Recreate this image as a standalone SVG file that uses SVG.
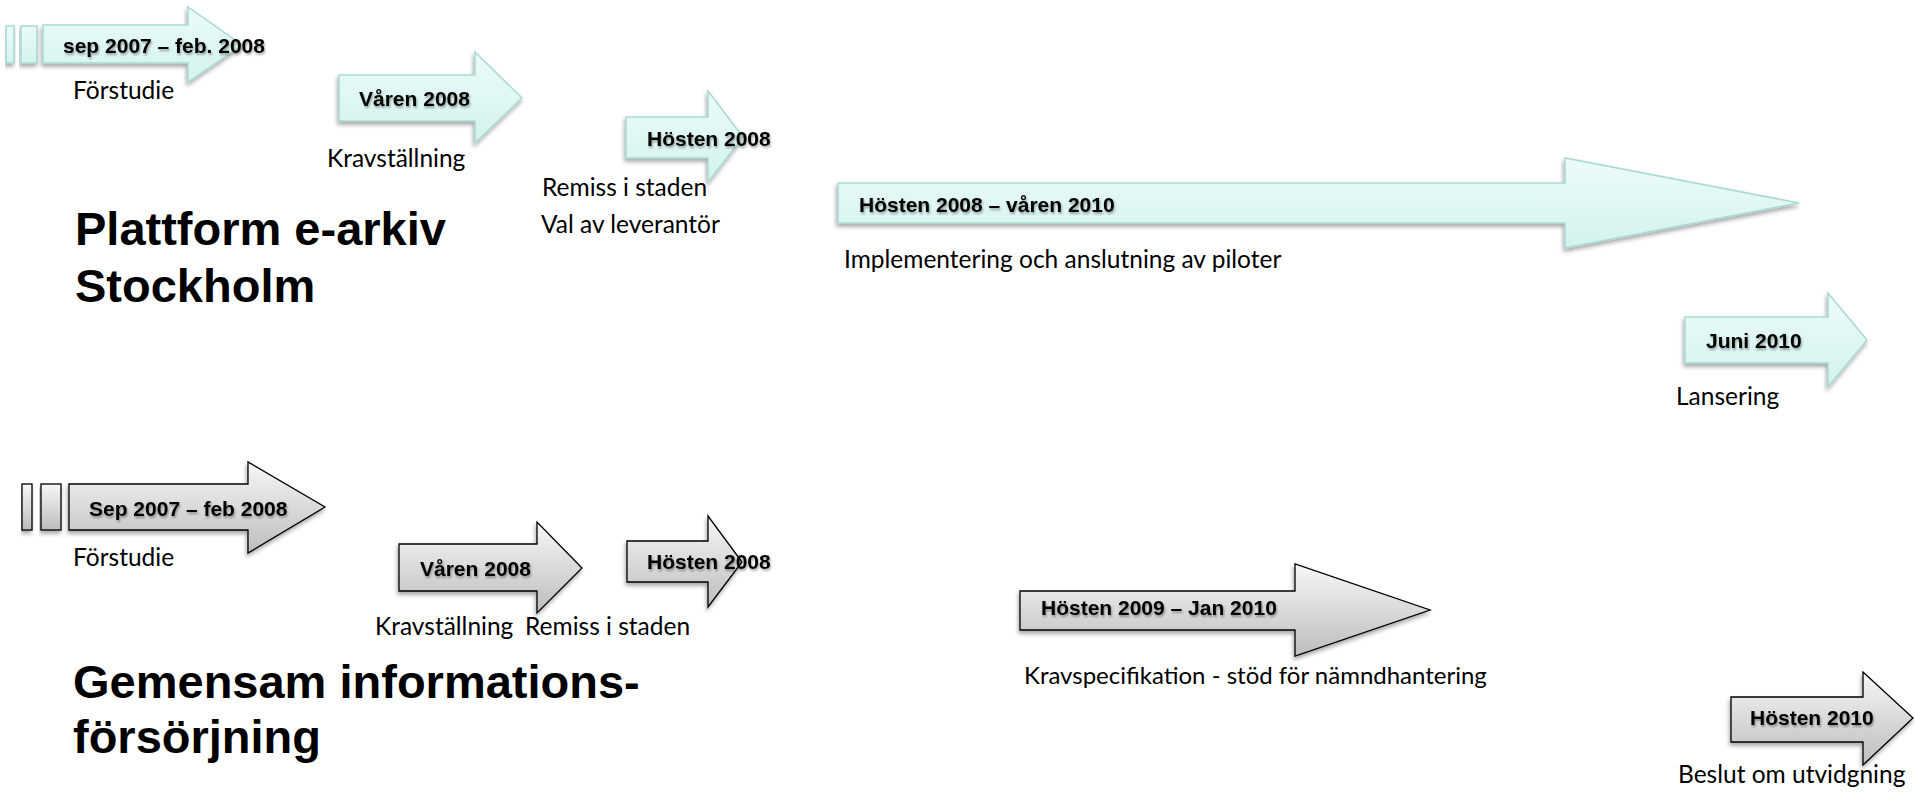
<svg xmlns="http://www.w3.org/2000/svg" width="1915" height="805" viewBox="0 0 1915 805">
<defs>
  <linearGradient id="gTeal" x1="0" y1="0" x2="0" y2="1">
    <stop offset="0" stop-color="#ecfbf9"/>
    <stop offset="1" stop-color="#d3f3ee"/>
  </linearGradient>
  <linearGradient id="gGrey" x1="0" y1="0" x2="0" y2="1">
    <stop offset="0" stop-color="#f7f7f7"/>
    <stop offset="1" stop-color="#bdbdbd"/>
  </linearGradient>
  <filter id="shadow" x="-10%" y="-20%" width="130%" height="150%">
    <feDropShadow dx="-1" dy="3" stdDeviation="2" flood-color="#000" flood-opacity="0.35"/>
  </filter>
  <filter id="tshadow" x="-5%" y="-20%" width="115%" height="160%">
    <feDropShadow dx="1" dy="2" stdDeviation="1" flood-color="#000" flood-opacity="0.35"/>
  </filter>
</defs>
<style>
  .teal { fill: url(#gTeal); stroke: #a9d9d2; stroke-width: 1.5; filter: url(#shadow); }
  .grey { fill: url(#gGrey); stroke: #000; stroke-width: 1.3; filter: url(#shadow); }
  .lbl { font-family: "Liberation Sans", Arial, sans-serif; font-weight: bold; font-size: 21px; fill: #000; filter: url(#tshadow); }
  .txt { font-family: Lato, "Liberation Sans", sans-serif; font-size: 24.5px; fill: #000; }
  .title { font-family: "Liberation Sans", Arial, sans-serif; font-weight: bold; font-size: 47px; fill: #000; }
</style>
<rect width="1915" height="805" fill="#fff"/>

<g id="connectors"></g>

<!-- Top row: Plattform e-arkiv -->
<g id="top-forstudie">
  <rect class="teal" x="6" y="26" width="8" height="37"/>
  <rect class="teal" x="21" y="26" width="16" height="37"/>
  <path class="teal" d="M43,25 L188,25 L188,7 L242,45 L188,82 L188,63 L43,63 Z"/>
  <text class="lbl" x="63" y="53">sep 2007 – feb. 2008</text>
  <text class="txt" x="73" y="99">Förstudie</text>
</g>
<g id="top-kravstallning">
  <path class="teal" d="M339,75 L475,75 L475,52 L522,98 L475,143 L475,121 L339,121 Z"/>
  <text class="lbl" x="359" y="106">Våren 2008</text>
  <text class="txt" x="327" y="167">Kravställning</text>
</g>
<g id="top-remiss">
  <path class="teal" d="M626,117 L708,117 L708,91 L743,137 L708,182 L708,158 L626,158 Z"/>
  <text class="lbl" x="647" y="146">Hösten 2008</text>
  <text class="txt" x="542" y="196">Remiss i staden</text>
  <text class="txt" x="541" y="233">Val av leverantör</text>
</g>
<g id="title-top">
  <text class="title" x="75" y="245">Plattform e-arkiv</text>
  <text class="title" x="75" y="302">Stockholm</text>
</g>
<g id="top-implementering">
  <path class="teal" d="M838,183 L1565,183 L1565,158 L1799,203 L1565,248 L1565,223 L838,223 Z"/>
  <text class="lbl" x="859" y="212">Hösten 2008 – våren 2010</text>
  <text class="txt" x="844" y="268">Implementering och anslutning av piloter</text>
</g>
<g id="top-lansering">
  <path class="teal" d="M1685,317 L1828,317 L1828,293 L1867,340 L1828,387 L1828,363 L1685,363 Z"/>
  <text class="lbl" x="1706" y="348">Juni 2010</text>
  <text class="txt" x="1676" y="405">Lansering</text>
</g>

<!-- Bottom row: Gemensam informationsförsörjning -->
<g id="bot-forstudie">
  <rect class="grey" x="22" y="484" width="10" height="46"/>
  <rect class="grey" x="41" y="484" width="20" height="46"/>
  <path class="grey" d="M69,484 L248,484 L248,462 L325,507 L248,553 L248,530 L69,530 Z"/>
  <text class="lbl" x="89" y="516">Sep 2007 – feb 2008</text>
  <text class="txt" x="73" y="566">Förstudie</text>
</g>
<g id="bot-kravstallning">
  <path class="grey" d="M399,544 L537,544 L537,522 L582,568 L537,613 L537,591 L399,591 Z"/>
  <text class="lbl" x="420" y="576">Våren 2008</text>
  <text class="txt" x="375" y="635">Kravställning</text>
</g>
<g id="bot-remiss">
  <path class="grey" d="M627,541 L708,541 L708,516 L742,562 L708,607 L708,582 L627,582 Z"/>
  <text class="lbl" x="647" y="569">Hösten 2008</text>
  <text class="txt" x="525" y="635">Remiss i staden</text>
</g>
<g id="title-bottom">
  <text class="title" x="73" y="698">Gemensam informations-</text>
  <text class="title" x="73" y="753">försörjning</text>
</g>
<g id="bot-kravspec">
  <path class="grey" d="M1020,591 L1295,591 L1295,564 L1430,610 L1295,656 L1295,630 L1020,630 Z"/>
  <text class="lbl" x="1041" y="615">Hösten 2009 – Jan 2010</text>
  <text class="txt" x="1024" y="684" style="font-size:24px">Kravspecifikation - stöd för nämndhantering</text>
</g>
<g id="bot-beslut">
  <path class="grey" d="M1731,697 L1863,697 L1863,672 L1913,718 L1863,765 L1863,742 L1731,742 Z"/>
  <text class="lbl" x="1750" y="725">Hösten 2010</text>
  <text class="txt" x="1678" y="783">Beslut om utvidgning</text>
</g>
</svg>
